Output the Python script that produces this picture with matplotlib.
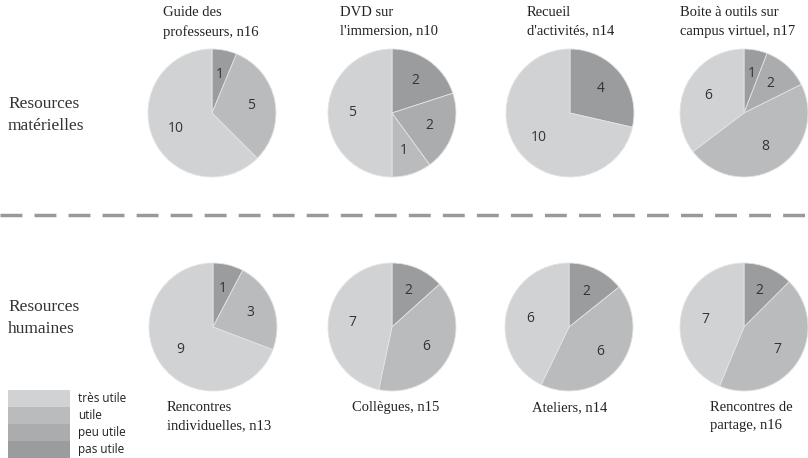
import matplotlib
matplotlib.use("Agg")
import matplotlib.pyplot as plt
from matplotlib.patches import Rectangle

# categories, clockwise from 12 o'clock
categories = ['pas utile', 'peu utile', 'utile', 'très utile']
legend_order = ['très utile', 'utile', 'peu utile', 'pas utile']
colors = {'très utile': '#d1d2d4', 'utile': '#babbbd',
          'peu utile': '#abacae', 'pas utile': '#9b9c9e'}

# top row: ressources matérielles
top_titles = ['Guide des\nprofesseurs, n16', "DVD sur\nl'immersion, n10",
              "Recueil\nd'activités, n14", 'Boite à outils sur\ncampus virtuel, n17']
top_values = [[1, 0, 5, 10], [2, 2, 1, 5], [4, 0, 0, 10], [1, 2, 8, 6]]

# bottom row: ressources humaines
bottom_titles = ['Rencontres\nindividuelles, n13', 'Collègues, n15',
                 'Ateliers, n14', 'Rencontres de\npartage, n16']
bottom_values = [[1, 0, 3, 9], [2, 0, 6, 7], [2, 0, 6, 6], [2, 0, 7, 7]]

row_labels = ['Resources\nmatérielles', 'Resources\nhumaines']

W, H = 808, 458
fig = plt.figure(figsize=(W / 100, H / 100), dpi=100)
serif = ['Liberation Serif', 'DejaVu Serif']
sans = ['Open Sans', 'DejaVu Sans']


def px_axes(cx, cy, r):
    return fig.add_axes([(cx - r) / W, 1 - (cy + r) / H, 2 * r / W, 2 * r / H])


def draw_pie(cx, cy, vals):
    ax = px_axes(cx, cy, 64)
    v = [x for x in vals if x > 0]
    c = [colors[k] for k, x in zip(categories, vals) if x > 0]
    wedges, texts, autotexts = ax.pie(
        v, colors=c, startangle=90, counterclock=False, radius=1.0,
        autopct=lambda p: '{:.0f}'.format(p * sum(v) / 100.0),
        pctdistance=0.62, wedgeprops=dict(edgecolor='#e2e3e5', linewidth=0.6))
    for t in autotexts:
        t.set_fontfamily(sans)
        t.set_fontsize(10)
        t.set_color('#333333')
    ax.set_xlim(-1, 1)
    ax.set_ylim(-1, 1)
    ax.set_aspect('equal')
    ax.axis('off')


top_cx = [212, 392, 570, 744]
bottom_cx = [213, 392, 569, 744]
top_title_x = [163, 340, 527, 680]
bottom_title_x = [167, 352, 532, 710]

for i in range(4):
    draw_pie(top_cx[i], 113, top_values[i])
    fig.text(top_title_x[i] / W, 1 - 6 / H, top_titles[i], ha='left', va='top',
             fontfamily=serif, fontsize=10.5, color='#222222', linespacing=1.55)
    draw_pie(bottom_cx[i], 327, bottom_values[i])
    fig.text(bottom_title_x[i] / W, 1 - 401 / H, bottom_titles[i], ha='left', va='top',
             fontfamily=serif, fontsize=10.5, color='#222222', linespacing=1.55)

fig.text(8 / W, 1 - 115 / H, row_labels[0], ha='left', va='center',
         fontfamily=serif, fontsize=12.5, color='#333333', linespacing=1.45)
fig.text(8 / W, 1 - 318 / H, row_labels[1], ha='left', va='center',
         fontfamily=serif, fontsize=12.5, color='#333333', linespacing=1.45)

# dashed separator
fig.add_artist(plt.Line2D([0, 1], [1 - 215 / H, 1 - 215 / H], transform=fig.transFigure,
                          color='#999999', linewidth=2.5, dashes=(6.3, 3.5)))

# legend
for j, name in enumerate(legend_order):
    y0 = 390 + j * 17
    fig.add_artist(Rectangle((8 / W, 1 - (y0 + 17) / H), 62 / W, 17 / H,
                             transform=fig.transFigure, facecolor=colors[name],
                             edgecolor='none'))
    fig.text(78 / W, 1 - (y0 + 8.5) / H, name, ha='left', va='center',
             fontfamily=sans, fontsize=8.5, color='#222222')

fig.savefig('out.png', dpi=100, facecolor='white')
